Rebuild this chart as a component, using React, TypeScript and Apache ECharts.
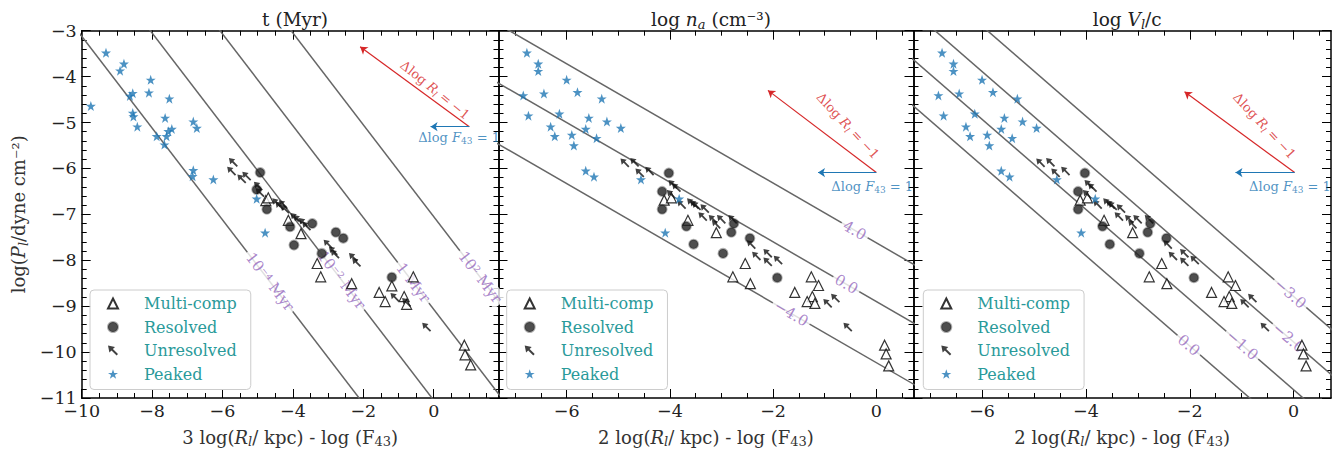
import React, { useEffect, useRef } from "react";
import * as echarts from "echarts";

const FONT = "'DejaVu Serif', serif";
const TEAL = "#2a9a9a";
const PURPLE = "#9467bd";
const RED = "#d62728";
const BLUE = "#1f77b4";

// ---------- tick labels ----------
const xTicksP1 = [-10, -8, -6, -4, -2, 0];
const xTicksP23 = [-6, -4, -2, 0];
const yTicks = [-11, -10, -9, -8, -7, -6, -5, -4, -3];

// ---------- panel 1 data: x = 3 log(R/kpc) - log F43, y = log P ----------
const multiP1 = [
  [-4.77, -6.7], [-4.7, -6.64], [-4.13, -7.13], [-3.77, -7.42], [-3.31, -8.07], [-3.21, -8.36],
  [-2.33, -8.51], [-0.58, -8.36], [-1.19, -8.56], [-1.55, -8.7], [-0.84, -8.79], [-1.38, -8.9],
  [-0.77, -8.96], [0.87, -9.85], [0.89, -10.06], [1.05, -10.28],
];
const resolvedP1 = [
  [-4.93, -6.09], [-5.03, -6.46], [-4.74, -6.89], [-4.08, -7.27], [-3.45, -7.2], [-3.97, -7.67],
  [-2.78, -7.39], [-2.57, -7.52], [-3.18, -7.85], [-1.19, -8.37],
];
const unresolvedP1 = [
  [-5.69, -5.87], [-5.74, -6.06], [-5.45, -6.23], [-5.31, -6.17], [-4.98, -6.39], [-4.93, -6.53],
  [-4.46, -6.75], [-4.37, -6.82], [-4.27, -6.79], [-4.22, -6.89], [-3.94, -7.07], [-3.85, -7.11],
  [-3.7, -7.18], [-3.61, -7.26], [-3.0, -7.65], [-2.85, -7.8], [-2.8, -7.87], [-2.28, -7.94],
  [-2.19, -8.05], [-1.1, -8.81], [-0.77, -8.92], [-0.2, -9.46],
];
const peakedP1 = [
  [-9.31, -3.48], [-8.8, -3.72], [-8.91, -3.87], [-8.04, -4.07], [-9.74, -4.64], [-8.55, -4.36],
  [-8.63, -4.42], [-8.09, -4.35], [-7.51, -4.48], [-8.55, -4.79], [-8.53, -4.87], [-8.42, -5.09],
  [-7.63, -4.9], [-7.87, -5.3], [-7.54, -5.19], [-7.59, -5.3], [-7.44, -5.14], [-7.65, -5.48],
  [-6.83, -4.98], [-6.73, -5.12], [-6.83, -6.04], [-6.85, -6.17], [-6.26, -6.24], [-5.03, -6.66],
  [-4.79, -7.4],
];

// ---------- panels 2 & 3 data: x = 2 log(R/kpc) - log F43 ----------
const multiP2 = [
  [-4.11, -6.69], [-3.97, -6.64], [-3.65, -7.13], [-3.1, -7.4], [-2.54, -8.07], [-2.78, -8.36],
  [-2.44, -8.51], [-1.26, -8.36], [-1.12, -8.55], [-1.58, -8.7], [-1.24, -8.79], [-1.34, -8.9],
  [-1.19, -8.94], [0.16, -9.85], [0.19, -10.04], [0.24, -10.3],
];
const resolvedP2 = [
  [-4.02, -6.1], [-4.15, -6.5], [-4.15, -6.89], [-3.68, -7.26], [-2.76, -7.2], [-3.54, -7.65],
  [-2.81, -7.39], [-2.45, -7.52], [-2.97, -7.85], [-1.92, -8.38],
];
const unresolvedP2 = [
  [-4.87, -5.88], [-4.68, -5.87], [-4.58, -6.1], [-4.39, -6.06], [-3.94, -6.35], [-3.87, -6.42],
  [-3.97, -6.57], [-3.77, -6.79], [-3.58, -6.75], [-3.52, -6.79], [-3.48, -6.82], [-3.32, -6.88],
  [-3.36, -7.05], [-3.16, -7.11], [-3.0, -7.11], [-3.1, -7.22], [-2.78, -7.11], [-2.42, -7.66],
  [-2.32, -7.91], [-2.1, -7.85], [-2.1, -8.04], [-1.9, -8.0], [-0.94, -8.94], [-0.79, -8.83],
  [-0.55, -9.46],
];
const peakedP2 = [
  [-6.77, -3.48], [-6.55, -3.72], [-6.55, -3.88], [-6.0, -4.07], [-6.84, -4.41], [-6.44, -4.37],
  [-5.79, -4.34], [-5.32, -4.48], [-6.74, -4.85], [-6.14, -4.81], [-5.57, -4.9], [-5.22, -4.98],
  [-6.31, -5.09], [-5.63, -5.14], [-4.95, -5.12], [-6.23, -5.3], [-5.9, -5.27], [-5.42, -5.34],
  [-5.86, -5.5], [-5.63, -6.05], [-5.47, -6.18], [-4.56, -6.24], [-3.82, -6.66], [-4.09, -7.4],
];

// ---------- contour lines: [x0, y0, x1, y1] ----------
const linesP1 = [
  [-10.32, -2.8, -1.92, -11.2], [-8.25, -2.8, 0.15, -11.2], [-6.27, -2.8, 2.13, -11.2], [-4.25, -2.8, 4.15, -11.2],
];
const linesP2 = [
  [-7.5, -2.745, 1, -8.27], [-7.5, -4.025, 1, -9.55], [-7.5, -5.355, 1, -10.88],
];
const linesP3 = [
  [-7.5, -1.425, 1, -9.772], [-7.5, -2.415, 1, -10.762], [-7.5, -3.455, 1, -11.802], [-7.5, -4.465, 1, -12.812],
];
const contourLabelsP1 = [
  { t: "10⁻⁴ Myr", x: -4.65, y: -8.47 }, { t: "10⁻² Myr", x: -2.62, y: -8.43 },
  { t: "1 Myr", x: -0.58, y: -8.49 }, { t: "10² Myr", x: 1.32, y: -8.37 },
];
const contourLabelsP2 = [
  { t: "4.0", x: -0.42, y: -7.35 }, { t: "0.0", x: -0.58, y: -8.52 }, { t: "−4.0", x: -1.65, y: -9.16 },
];
const contourLabelsP3 = [
  { t: "−3.0", x: -0.065, y: -8.73 }, { t: "−2.0", x: -0.096, y: -9.69 },
  { t: "−1.0", x: -0.99, y: -9.85 }, { t: "0.0", x: -2.02, y: -9.85 },
];

// ---------- annotation arrows ----------
const arrowsP1 = { from: [1.01, -5.09], red: [-2.09, -3.35], blue: [-0.09, -5.09], redText: [0.04, -4.29], blueText: [0.72, -5.32], rot: -39 };
const arrowsP2 = { from: [0.0, -6.09], red: [-2.1, -4.3], blue: [-1.13, -6.09], redText: [-0.55, -5.07], blueText: [-0.08, -6.39], rot: -47 };
const arrowsP3 = { from: [0.02, -6.09], red: [-2.1, -4.33], blue: [-1.12, -6.09], redText: [-0.56, -5.07], blueText: [-0.07, -6.39], rot: -47 };

const NAMES = ["Multi-comp", "Resolved", "Unresolved", "Peaked"];
const STAR = "path://M50,2 L61.8,36.2 L97.6,36.2 L68.7,57.4 L79.4,91.6 L50,70.5 L20.6,91.6 L31.3,57.4 L2.4,36.2 L38.2,36.2 Z";
// arrow pointing to the upper-left corner of its box
const ARROW = "path://M0,0 L7,1.4 L4.9,3.5 L10,8.6 L8.6,10 L3.5,4.9 L1.4,7 Z";

function steps(a: number, b: number, s: number) {
  const r: number[] = [];
  for (let v = a; v <= b + 1e-9; v += s) r.push(+v.toFixed(2));
  return r;
}
const fmt = (v: number) => (v < 0 ? "−" + Math.abs(v) : String(v));

const richBase = (size: number, color: string) => {
  const sub = Math.round(size * 0.7);
  const common = { fontFamily: FONT, fontWeight: "normal", color };
  return {
    a: { ...common, fontSize: size, lineHeight: size + 4 },
    i: { ...common, fontSize: size, fontStyle: "italic", lineHeight: size + 4 },
    s: { ...common, fontSize: sub, lineHeight: sub, verticalAlign: "bottom" },
    si: { ...common, fontSize: sub, fontStyle: "italic", lineHeight: sub, verticalAlign: "bottom" },
  };
};

const panels = [
  {
    left: 81.7, width: 416.8, xMin: -10, xMax: 1.84, xTicks: xTicksP1, xMinor: steps(-10, 1.5, 0.5),
    title: "{a|t (Myr)}", xName: "{a|3 log(}{i|R}{si|l}{a|/ kpc) - log (F}{s|43}{a|)}",
    multi: multiP1, resolved: resolvedP1, unresolved: unresolvedP1, peaked: peakedP1,
    lines: linesP1, labels: contourLabelsP1, labelRot: -52.6, arrows: arrowsP1, legendLeft: 90,
  },
  {
    left: 498.5, width: 415, xMin: -7.32, xMax: 0.72, xTicks: xTicksP23, xMinor: steps(-7, 0.5, 0.5),
    title: "{a|log }{i|n}{si|a}{a| (cm⁻³)}", xName: "{a|2 log(}{i|R}{si|l}{a|/ kpc) - log (F}{s|43}{a|)}",
    multi: multiP2, resolved: resolvedP2, unresolved: unresolvedP2, peaked: peakedP2,
    lines: linesP2, labels: contourLabelsP2, labelRot: -30, arrows: arrowsP2, legendLeft: 506.7,
  },
  {
    left: 913.5, width: 417.5, xMin: -7.32, xMax: 0.72, xTicks: xTicksP23, xMinor: steps(-7, 0.5, 0.5),
    title: "{a|log }{i|V}{si|l}{a|/c}", xName: "{a|2 log(}{i|R}{si|l}{a|/ kpc) - log (F}{s|43}{a|)}",
    multi: multiP2, resolved: resolvedP2, unresolved: unresolvedP2, peaked: peakedP2,
    lines: linesP3, labels: contourLabelsP3, labelRot: -41, arrows: arrowsP3, legendLeft: 923.3,
  },
];

const GRID_TOP = 30.7;
const GRID_H = 368.3;
const yMinor = steps(-11, -3, 0.2);

function buildOption() {
  const grid: any[] = [];
  const xAxis: any[] = [];
  const yAxis: any[] = [];
  const series: any[] = [];
  const title: any[] = [];
  const legend: any[] = [];

  panels.forEach((p, g) => {
    grid.push({ left: p.left, top: GRID_TOP, width: p.width, height: GRID_H, containLabel: false });
    const frame = { show: true, onZero: false, lineStyle: { color: "#000", width: 1.5 } };
    const noLine = { show: false, onZero: false };
    const majT = (vals: number[]) => ({ show: true, inside: true, length: 9, customValues: vals, lineStyle: { color: "#000", width: 1 } });
    const minT = (vals: number[]) => ({ show: true, inside: true, length: 5, customValues: vals, lineStyle: { color: "#000", width: 1 } });
    const tickLabel = { customValues: [] as number[], formatter: fmt, fontFamily: FONT, fontSize: 17.5, color: "#222", margin: 5 };
    const xb = { type: "value", gridIndex: g, min: p.xMin, max: p.xMax, splitLine: { show: false } };
    xAxis.push(
      {
        ...xb, position: "bottom", axisLine: frame, axisTick: majT(p.xTicks),
        axisLabel: { ...tickLabel, show: true, customValues: p.xTicks, margin: 4 },
        name: p.xName, nameLocation: "middle", nameGap: 28,
        nameTextStyle: { rich: richBase(18, "#333") },
      },
      { ...xb, position: "bottom", axisLine: noLine, axisTick: minT(p.xMinor), axisLabel: { show: false } },
      { ...xb, position: "top", axisLine: frame, axisTick: majT(p.xTicks), axisLabel: { show: false } },
      { ...xb, position: "top", axisLine: noLine, axisTick: minT(p.xMinor), axisLabel: { show: false } },
    );
    const yb = { type: "value", gridIndex: g, min: -11, max: -3, splitLine: { show: false } };
    const yMain: any = {
      ...yb, position: "left", axisLine: frame, axisTick: majT(yTicks),
      axisLabel: { ...tickLabel, show: g === 0, customValues: yTicks },
    };
    if (g === 0) {
      yAxis.push({
        ...yMain, name: "{a|log(}{i|P}{si|l}{a|/dyne cm⁻²)}", nameLocation: "middle", nameGap: 52,
        nameTextStyle: { rich: richBase(18, "#333") },
      });
    } else yAxis.push(yMain);
    yAxis.push(
      { ...yb, position: "left", axisLine: noLine, axisTick: minT(yMinor), axisLabel: { show: false } },
      { ...yb, position: "right", axisLine: frame, axisTick: majT(yTicks), axisLabel: { show: false } },
      { ...yb, position: "right", axisLine: noLine, axisTick: minT(yMinor), axisLabel: { show: false } },
    );

    title.push({
      text: p.title, left: p.left + p.width / 2, top: 3, textAlign: "center",
      textStyle: { fontWeight: "normal", rich: richBase(18.5, "#222") },
    });

    legend.push({
      left: p.legendLeft, top: 290, orient: "vertical", selectedMode: false,
      data: NAMES.map((n) => (n === "Unresolved" ? { name: n, icon: ARROW } : { name: n })),
      itemWidth: 10, itemHeight: 10, itemGap: 6.5, padding: [5, 14, 7, 17],
      borderColor: "#cccccc", borderWidth: 1, borderRadius: 4, backgroundColor: "rgba(255,255,255,0.85)",
      textStyle: { fontFamily: FONT, fontSize: 16, color: TEAL, padding: [0, 0, 0, 21], lineHeight: 17 },
    });

    const ax = { xAxisIndex: g * 4, yAxisIndex: g * 4 };
    p.lines.forEach((l) => {
      series.push({
        type: "line", ...ax, data: [[l[0], l[1]], [l[2], l[3]]], symbol: "none", silent: true, clip: true, z: 2,
        lineStyle: { color: "#666", width: 1.5 },
      });
    });
    series.push({
      type: "scatter", ...ax, symbolSize: 0.1, silent: true, z: 3, itemStyle: { color: "rgba(0,0,0,0)" },
      data: p.labels.map((lb) => ({ value: [lb.x, lb.y], label: { formatter: lb.t } })),
      label: {
        show: true, position: "inside", rotate: p.labelRot, color: PURPLE, fontFamily: FONT, fontSize: 15,
        backgroundColor: "#fff", padding: [1, 3],
      },
    });
    const A = p.arrows;
    series.push({
      type: "lines", coordinateSystem: "cartesian2d", ...ax, silent: true, z: 3,
      symbol: ["none", "arrow"], symbolSize: 7,
      data: [
        { coords: [A.from, A.red], lineStyle: { color: RED, width: 1.2 } },
        { coords: [A.from, A.blue], lineStyle: { color: BLUE, width: 1.2 } },
      ],
      lineStyle: { width: 1.2, opacity: 1, curveness: 0 },
    });
    series.push({
      type: "scatter", ...ax, symbolSize: 0.1, silent: true, z: 3, itemStyle: { color: "rgba(0,0,0,0)" },
      data: [
        {
          value: A.redText,
          label: { formatter: "{a|Δlog }{i|R}{si|l}{a| = −1}", rotate: A.rot, rich: richBase(13, RED) },
        },
        {
          value: A.blueText,
          label: { formatter: "{a|Δlog }{i|F}{s|43}{a| = 1}", rotate: 0, rich: richBase(13, BLUE) },
        },
      ],
      label: { show: true, position: "inside" },
    });

    series.push(
      {
        name: "Multi-comp", type: "scatter", ...ax, data: p.multi, symbol: "triangle", symbolSize: 10, z: 5,
        itemStyle: { color: "#ffffff", borderColor: "#000", borderWidth: 1.2 },
      },
      {
        name: "Resolved", type: "scatter", ...ax, data: p.resolved, symbol: "circle", symbolSize: 9, z: 6,
        itemStyle: { color: "#222", borderColor: "rgba(40,40,40,0.45)", borderWidth: 2 },
      },
      {
        name: "Unresolved", type: "scatter", ...ax, data: p.unresolved, symbol: ARROW, symbolSize: 9,
        z: 7, itemStyle: { color: "#111" },
      },
      {
        name: "Peaked", type: "scatter", ...ax, data: p.peaked, symbol: STAR, symbolSize: 10, z: 8,
        itemStyle: { color: BLUE },
      },
    );
  });

  return { animation: false, backgroundColor: "#fff", grid, xAxis, yAxis, series, title, legend };
}

export default function App() {
  const ref = useRef<HTMLDivElement>(null);
  useEffect(() => {
    if (!ref.current) return;
    const chart = echarts.init(ref.current, null, { renderer: "svg" });
    chart.setOption(buildOption() as any);
    return () => chart.dispose();
  }, []);
  return <div ref={ref} style={{ position: "absolute", left: 0, top: 0, width: 1344, height: 453 }} />;
}
